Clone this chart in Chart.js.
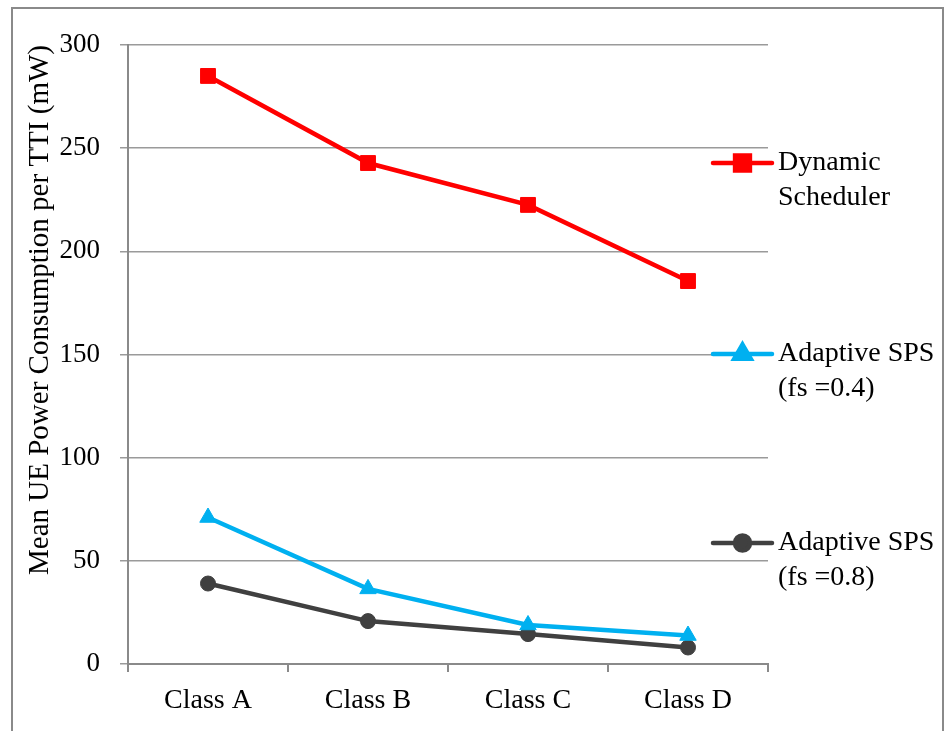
<!DOCTYPE html>
<html>
<head>
<meta charset="utf-8">
<script src="https://cdn.jsdelivr.net/npm/chart.js@4/dist/chart.umd.min.js"></script>
<style>
  html, body { margin: 0; padding: 0; background: #fff; }
  canvas { display: block; }
</style>
</head>
<body>
<canvas id="c" width="945" height="731"></canvas>
<script>
// Traffic classes on the x axis
const categories = ['Class A', 'Class B', 'Class C', 'Class D'];

// Mean UE power consumption per TTI (mW)
const dynamicScheduler = [285, 242.8, 222.5, 185.6];
const adaptiveSps04 = [71, 36.4, 18.9, 13.8];
const adaptiveSps08 = [39, 20.8, 14.5, 8];

// Legend texts (one entry per line)
const seriesLabels = [
  ['Dynamic', 'Scheduler'],
  ['Adaptive SPS', '(fs =0.4)'],
  ['Adaptive SPS', '(fs =0.8)']
];

const yTicks = [0, 50, 100, 150, 200, 250, 300];
const yTitle = 'Mean UE Power Consumption per TTI (mW)';

const FONT = '"Liberation Serif", "Times New Roman", serif';

// Frame around the whole figure and white background
const framePlugin = {
  id: 'frame',
  beforeDraw(chart) {
    const ctx = chart.ctx;
    ctx.save();
    ctx.fillStyle = '#fff';
    ctx.fillRect(0, 0, chart.width, chart.height);
    ctx.strokeStyle = '#8a8a8a';
    ctx.lineWidth = 2;
    ctx.strokeRect(12, 8, 931, 740);
    ctx.restore();
  }
};

// Rotated y-axis title
const yTitlePlugin = {
  id: 'yTitle',
  afterDraw(chart) {
    const ctx = chart.ctx;
    ctx.save();
    ctx.translate(40, 310);
    ctx.rotate(-Math.PI / 2);
    ctx.font = '29px ' + FONT;
    ctx.fillStyle = '#000';
    ctx.textAlign = 'center';
    ctx.textBaseline = 'middle';
    ctx.fillText(yTitle, 0, 0);
    ctx.restore();
  }
};

// Legend on the right, one block per series with a two-line label
const sideLegendPlugin = {
  id: 'sideLegend',
  afterDraw(chart) {
    const ctx = chart.ctx;
    const rows = [163, 354, 543];
    const x0 = 713, x1 = 772, tx = 778, lineGap = 35;
    chart.data.datasets.forEach((ds, i) => {
      const y = rows[i];
      ctx.save();
      ctx.strokeStyle = ds.borderColor;
      ctx.lineWidth = ds.borderWidth;
      ctx.lineCap = 'round';
      ctx.beginPath();
      ctx.moveTo(x0, y);
      ctx.lineTo(x1, y);
      ctx.stroke();
      ctx.fillStyle = ds.pointBackgroundColor;
      ctx.strokeStyle = ds.pointBorderColor;
      Chart.helpers.drawPoint(ctx, {
        pointStyle: ds.pointStyle,
        rotation: 0,
        borderWidth: 1,
        radius: ds.pointRadius
      }, (x0 + x1) / 2, y);
      ctx.fillStyle = '#000';
      ctx.font = '28px ' + FONT;
      ctx.textAlign = 'left';
      ctx.textBaseline = 'middle';
      seriesLabels[i].forEach((t, k) => ctx.fillText(t, tx, y + k * lineGap));
      ctx.restore();
    });
  }
};

new Chart(document.getElementById('c'), {
  type: 'line',
  data: {
    labels: categories,
    datasets: [
      {
        label: seriesLabels[0].join(' '),
        data: dynamicScheduler,
        borderColor: '#ff0000',
        borderWidth: 4.5,
        pointStyle: 'rect',
        pointRadius: 10.5,
        pointBackgroundColor: '#ff0000',
        pointBorderColor: '#ff0000',
        pointBorderWidth: 1
      },
      {
        label: seriesLabels[1].join(' '),
        data: adaptiveSps04,
        borderColor: '#00b0f0',
        borderWidth: 4.5,
        pointStyle: 'triangle',
        pointRadius: 9.5,
        pointBackgroundColor: '#00b0f0',
        pointBorderColor: '#00b0f0',
        pointBorderWidth: 1
      },
      {
        label: seriesLabels[2].join(' '),
        data: adaptiveSps08,
        borderColor: '#404040',
        borderWidth: 4.5,
        pointStyle: 'circle',
        pointRadius: 7.5,
        pointBackgroundColor: '#404040',
        pointBorderColor: '#404040',
        pointBorderWidth: 1
      }
    ]
  },
  options: {
    responsive: false,
    animation: false,
    events: [],
    layout: { padding: { top: 45, right: 177, left: 0, bottom: 0 } },
    plugins: {
      legend: { display: false },
      tooltip: { enabled: false }
    },
    scales: {
      x: {
        offset: true,
        afterFit(scale) { scale.height = 67; },
        grid: {
          drawOnChartArea: false,
          offset: true,
          color: '#8a8a8a',
          lineWidth: 2,
          tickLength: 8
        },
        border: { color: '#8a8a8a', width: 2 },
        ticks: {
          color: '#000',
          font: { family: FONT, size: 28 },
          padding: 12,
          maxRotation: 0
        }
      },
      y: {
        min: 0,
        max: 300,
        afterFit(scale) { scale.width = 128; },
        afterBuildTicks(scale) { scale.ticks = yTicks.map(v => ({ value: v })); },
        grid: {
          color: '#9a9a9a',
          lineWidth: 1.5,
          tickLength: 8
        },
        border: { color: '#8a8a8a', width: 2 },
        ticks: {
          color: '#000',
          font: { family: FONT, size: 27 },
          padding: 20
        }
      }
    }
  },
  plugins: [framePlugin, yTitlePlugin, sideLegendPlugin]
});
</script>
</body>
</html>
